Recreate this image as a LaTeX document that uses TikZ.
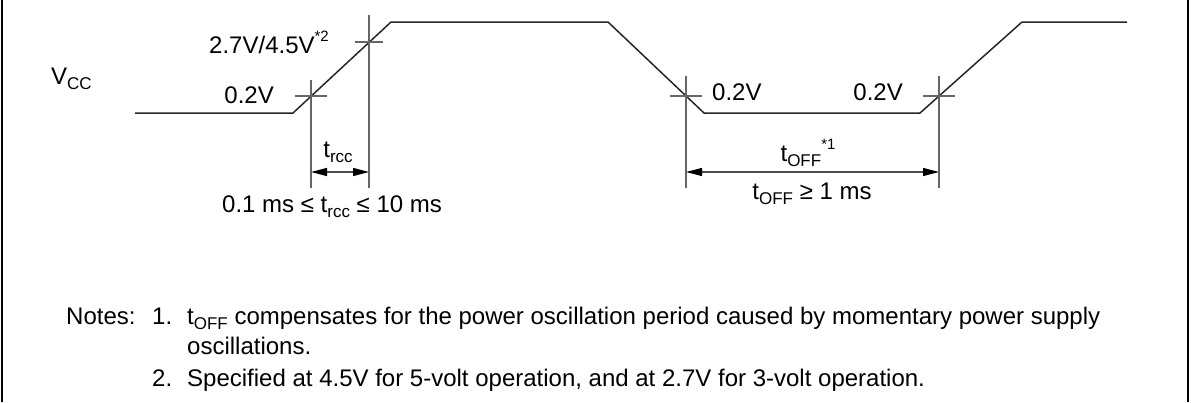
\documentclass[tikz,border=0pt]{standalone}
\usepackage{fontspec}
\setmainfont{Liberation Sans}
\usepackage{tikz}
\usetikzlibrary{positioning,arrows.meta}

\newcommand{\lowtxt}[1]{\raisebox{-0.4ex}{\fontsize{17}{17}\selectfont #1}}
\newcommand{\hightxt}[1]{\raisebox{0.9ex}{\fontsize{15}{15}\selectfont #1}}

\begin{document}
\begin{tikzpicture}[
    x=1pt, y=-1pt,
    wave/.style={draw=black!85, line width=1.5pt},
    guide/.style={draw=black!60, line width=1.2pt},
    dim/.style={{Triangle[length=16pt,width=8pt,black]}-{Triangle[length=16pt,width=8pt,black]}, draw=black!70, line width=1.2pt},
    lbl/.style={font=\fontsize{24}{28}\selectfont, inner sep=0pt},
    note/.style={font=\fontsize{24}{28}\selectfont, inner sep=0pt, anchor=base west}
]
\useasboundingbox (0,0) rectangle (1191,402);

% Side rules
\coordinate (ltop) at (2,0);
\coordinate (lbot) at (2,402);
\coordinate (rtop) at (1188,0);
\coordinate (rbot) at (1188,402);
\draw[line width=2pt] (ltop) -- (lbot);
\draw[line width=2pt] (rtop) -- (rbot);

% Vcc waveform
\coordinate (w0) at (135,113);
\coordinate (w1) at (293,113);
\coordinate (w2) at (391,22);
\coordinate (w3) at (608,22);
\coordinate (w4) at (704,113);
\coordinate (w5) at (920,113);
\coordinate (w6) at (1022,22);
\coordinate (w7) at (1127,22);
\draw[wave] (w0) -- (w1) -- (w2) -- (w3) -- (w4) -- (w5) -- (w6) -- (w7);

% Threshold crossings
\coordinate (c1) at (311,96);
\coordinate (c2) at (369,42);
\coordinate (c3) at (686,96);
\coordinate (c4) at (939,96);
\coordinate (gbot) at (0,188);
\coordinate (arr) at (0,172);

\draw[guide] (c1) ++(-16,0) -- ++(32,0);
\draw[guide] (c1) ++(0,-16) -- (c1 |- gbot);
\draw[guide] (c2) ++(-14,0) -- ++(28,0);
\draw[guide] (c2) ++(0,-27) -- (c2 |- gbot);
\draw[guide] (c3) ++(-16,0) -- ++(32,0);
\draw[guide] (c3) ++(0,-20) -- (c3 |- gbot);
\draw[guide] (c4) ++(-16,0) -- ++(32,0);
\draw[guide] (c4) ++(0,-20) -- (c4 |- gbot);

% Dimension arrows
\draw[dim] (c1 |- arr) -- (c2 |- arr);
\draw[dim] (c3 |- arr) -- (c4 |- arr);

% Labels
\node[lbl, anchor=base west] (vcc) at (51,84) {V\lowtxt{CC}};
\node[lbl, anchor=base east] (vhi) at (329,53) {2.7V/4.5V\hightxt{*2}};
\node[lbl, anchor=base east] (v1) at (274,103) {0.2V};
\node[lbl, anchor=base west] (v2) at (712,100) {0.2V};
\node[lbl, anchor=base east] (v3) at (903,100) {0.2V};

\node[lbl, anchor=base] (trcc) at (338,157) {t\lowtxt{rcc}};
\node[lbl, anchor=base west] (trange) at (222,212) {0.1 ms ≤ t\lowtxt{rcc} ≤ 10 ms};
\node[lbl, anchor=base] (toff) at (808,161) {t\lowtxt{OFF}\hightxt{*1}};
\node[lbl, anchor=base] (toffmin) at (812,199) {t\lowtxt{OFF} ≥ 1 ms};

% Notes
\node[note] (notes) at (66,324) {Notes:};
\node[note] (n1) at (152,324) {1.};
\node[note] (n1a) at (187,324) {t\lowtxt{OFF} compensates for the power oscillation period caused by momentary power supply};
\node[note] (n1b) at (187,354) {oscillations.};
\node[note] (n2) at (152,386) {2.};
\node[note] (n2a) at (187,386) {Specified at 4.5V for 5-volt operation, and at 2.7V for 3-volt operation.};

\end{tikzpicture}
\end{document}
